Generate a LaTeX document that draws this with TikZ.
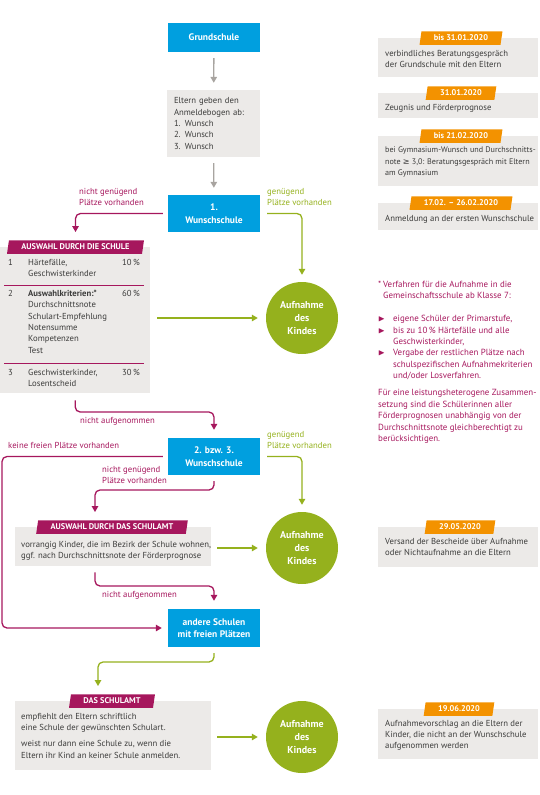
\documentclass[tikz,border=0pt]{standalone}
\usepackage{amssymb}
\usepackage{fontspec}
\setmainfont{PT Sans}
\newfontfamily\symbfont{DejaVu Sans}
\usetikzlibrary{arrows.meta,shapes.geometric,calc}

\definecolor{schulblau}{HTML}{009FDF}
\definecolor{beere}{HTML}{A6175D}
\definecolor{gruen}{HTML}{95B11D}
\definecolor{termin}{HTML}{F39200}
\definecolor{hellgrau}{HTML}{ECEAE8}
\definecolor{pfeilgrau}{HTML}{A8A4A0}
\definecolor{dunkel}{HTML}{3C3C3B}

\tikzset{
  bluebox/.style={fill=schulblau, text=white, font=\bfseries\fontsize{9.5}{12.5}\selectfont, minimum width=92pt, inner sep=0pt, align=center},
  graybox/.style={fill=hellgrau, inner sep=0pt, anchor=north west},
  txt/.style={font=\fontsize{8.7}{11.3}\selectfont, text=dunkel, align=left, inner sep=0pt, anchor=north west},
  label/.style={font=\fontsize{8.7}{11.3}\selectfont, align=left, inner sep=0pt, anchor=north west},
  kreis/.style={circle, fill=gruen, text=white, minimum size=72pt, inner sep=0pt, align=center, font=\bfseries\fontsize{10}{12.8}\selectfont},
  banner/.style={trapezium, trapezium left angle=72, trapezium right angle=108, trapezium stretches body, minimum height=13.5pt, inner xsep=12.5pt, inner ysep=0pt, text=white, font=\bfseries\fontsize{8.3}{9}\selectfont},
  graupfeil/.style={->, draw=pfeilgrau, line width=1.3pt, shorten <=6pt, shorten >=7pt},
  beerepfeil/.style={->, draw=beere, line width=1.3pt, rounded corners=5pt, shorten <=6pt, shorten >=8pt},
  gruenpfeil/.style={->, draw=gruen, line width=1.3pt, rounded corners=5pt, shorten <=7pt, shorten >=7pt},
}

\begin{document}
\begin{tikzpicture}[x=1pt, y=-1pt, >={Triangle[length=6pt,width=6.5pt]}]
	\useasboundingbox (0,0) rectangle (540,795);

	% Mittelspalte
	\node (grund) [bluebox, minimum height=29pt] at (214,37.5) {Grundschule};
	\node (eltern) [fill=hellgrau, minimum width=93pt, minimum height=67pt, text width=79pt, inner xsep=7pt, inner ysep=0pt, align=left, text=dunkel, font=\fontsize{8.7}{11.3}\selectfont] at (213.5,123.5) {Eltern geben den\\Anmeldebogen ab:\\1. Wunsch\\2. Wunsch\\3. Wunsch};
	\node (w1) [bluebox, minimum height=37pt] at (214,213.5) {1.\\Wunschschule};
	\node (w2) [bluebox, minimum height=37pt] at (214,456.5) {2. bzw. 3.\\Wunschschule};
	\node (andere) [bluebox, minimum height=38pt] at (214,628) {andere Schulen\\mit freien Plätzen};

	\node (auf1) [kreis] at (302,318) {Aufnahme\\des\\Kindes};
	\node (auf2) [kreis] at (302,548) {Aufnahme\\des\\Kindes};
	\node (auf3) [kreis] at (302,737) {Aufnahme\\des\\Kindes};

	% Auswahl durch die Schule
	\node (as1) [graybox, minimum width=150pt, minimum height=146pt] at (0,247) {};
	\node (ban1) [banner, fill=beere] at (75.5,247) {AUSWAHL DURCH DIE SCHULE};
	\node (r1n) [txt] at (8,259) {1};
	\node (r1t) [txt] at (28,259) {Härtefälle,\\Geschwisterkinder};
	\node (r1p) [txt, anchor=north east] at (140,259) {10\,\%};
	\draw [beere, line width=0.8pt] (4,285) -- (144,285);
	\node (r2n) [txt] at (8,290) {2};
	\node (r2t) [txt] at (28,290) {\textbf{Auswahlkriterien:*}\\Durchschnittsnote\\Schulart-Empfehlung\\Notensumme\\Kompetenzen\\Test};
	\node (r2p) [txt, anchor=north east] at (140,290) {60\,\%};
	\draw [beere, line width=0.8pt] (4,363) -- (144,363);
	\node (r3n) [txt] at (8,369) {3};
	\node (r3t) [txt] at (28,369) {Geschwisterkinder,\\Losentscheid};
	\node (r3p) [txt, anchor=north east] at (140,369) {30\,\%};

	% Auswahl durch das Schulamt
	\node (as2) [graybox, minimum width=196pt, minimum height=39pt] at (15,527) {};
	\node (ban2) [banner, fill=beere] at (112,527) {AUSWAHL DURCH DAS SCHULAMT};
	\node (as2t) [txt] at (21,541) {vorrangig Kinder, die im Bezirk der Schule wohnen,\\ggf. nach Durchschnittsnote der Förderprognose};

	% Das Schulamt
	\node (as3) [graybox, minimum width=196pt, minimum height=69pt] at (15,701) {};
	\node (ban3) [banner, fill=beere] at (112,701) {DAS SCHULAMT};
	\node (as3t) [txt] at (21,713) {empfiehlt den Eltern schriftlich\\eine Schule der gewünschten Schulart.\\[5pt]weist nur dann eine Schule zu, wenn die\\Eltern ihr Kind an keiner Schule anmelden.};

	% Termine rechts
	\node (b1) [graybox, minimum width=160pt, minimum height=39pt] at (378,38) {};
	\node (t1) [banner, fill=termin] at (461,38) {bis 31.01.2020};
	\node (b1t) [txt] at (385,50) {verbindliches Beratungsgespräch\\der Grundschule mit den Eltern};
	\node (b2) [graybox, minimum width=160pt, minimum height=25pt] at (378,93) {};
	\node (t2) [banner, fill=termin] at (461,93) {31.01.2020};
	\node (b2t) [txt] at (385,104) {Zeugnis und Förderprognose};
	\node (b3) [graybox, minimum width=160pt, minimum height=50pt] at (378,136) {};
	\node (t3) [banner, fill=termin] at (461,136) {bis 21.02.2020};
	\node (b3t) [txt, font=\fontsize{8.1}{11.5}\selectfont] at (385,147) {bei Gymnasium-Wunsch und Durchschnitts-\\note {\symbfont ≥} 3,0: Beratungsgespräch mit Eltern\\am Gymnasium};
	\node (b4) [graybox, minimum width=160pt, minimum height=27pt] at (378,203) {};
	\node (t4) [banner, fill=termin] at (461,203) {17.02. -- 26.02.2020};
	\node (b4t) [txt] at (385,215) {Anmeldung an der ersten Wunschschule};
	\node (b5) [graybox, minimum width=160pt, minimum height=40pt] at (378,527) {};
	\node (t5) [banner, fill=termin] at (460,527) {29.05.2020};
	\node (b5t) [txt] at (385,538) {Versand der Bescheide über Aufnahme\\oder Nichtaufnahme an die Eltern};
	\node (b6) [graybox, minimum width=160pt, minimum height=50pt] at (378,709) {};
	\node (t6) [banner, fill=termin] at (459,709) {19.06.2020};
	\node (b6t) [txt] at (385,720) {Aufnahmevorschlag an die Eltern der\\Kinder, die nicht an der Wunschschule\\aufgenommen werden};

	% Fussnote
	\node (fn) [label, text=beere, font=\fontsize{8.9}{11.4}\selectfont] at (378,281) {\makebox[5pt][l]{*}Verfahren für die Aufnahme in die\\\hspace*{5pt}Gemeinschaftsschule ab Klasse 7:\\[11.4pt]
		\makebox[15pt][l]{$\blacktriangleright$}eigene Schüler der Primarstufe,\\
		\makebox[15pt][l]{$\blacktriangleright$}bis zu 10\,\% Härtefälle und alle\\\hspace*{15pt}Geschwisterkinder,\\
		\makebox[15pt][l]{$\blacktriangleright$}Vergabe der restlichen Plätze nach\\\hspace*{15pt}schulspezifischen Aufnahmekriterien\\\hspace*{15pt}und/oder Losverfahren.\\[5.7pt]
		Für eine leistungsheterogene Zusammen-\\setzung sind die Schülerinnen aller\\Förderprognosen unabhängig von der\\Durchschnittsnote gleichberechtigt zu\\berücksichtigen.};

	% Beschriftungen
	\node (lab1) [label, text=beere] at (79,188) {nicht genügend\\Plätze vorhanden};
	\node (lab2) [label, text=gruen] at (267,188) {genügend\\Plätze vorhanden};
	\node (lab3) [label, text=beere] at (80,417) {nicht aufgenommen};
	\node (lab4) [label, text=beere] at (8,442) {keine freien Plätze vorhanden};
	\node (lab5) [label, text=gruen] at (267,431) {genügend\\Plätze vorhanden};
	\node (lab6) [label, text=beere] at (102,466) {nicht genügend\\Plätze vorhanden};
	\node (lab7) [label, text=beere] at (102,591) {nicht aufgenommen};

	\coordinate (k1) at (214,412);
	\coordinate (k2) at (2,600);
	\coordinate (k3) at (95,490);
	\coordinate (k4) at (214,586);
	\coordinate (k5) at (98,662);

	% Pfeile
	\draw [graupfeil] (grund) to (eltern);
	\draw [graupfeil] (eltern) to (w1);
	\draw [beerepfeil, shorten <=5pt] (w1.west) -| (ban1.north);
	\draw [gruenpfeil] (w1.east) -| (auf1.north);
	\draw [gruenpfeil, shorten >=8pt] (auf1.west -| as1.east) -- (auf1.west);
	\draw [beerepfeil, shorten <=7pt] (as1.south) |- (k1) -- (w2.north);
	\draw [beerepfeil, shorten <=5pt, shorten >=6pt] (w2.west) -| (k2) |- (andere.west);
	\draw [gruenpfeil] (w2.east) -| (auf2.north);
	\draw [beerepfeil] (w2.south) |- (k3) -- (k3 |- ban2.north);
	\draw [gruenpfeil, shorten <=6pt, shorten >=8pt] (auf2.west -| as2.east) -- (auf2.west);
	\draw [beerepfeil] (k3 |- as2.south) |- (k4) -- (andere.north);
	\draw [gruenpfeil, shorten <=6pt, shorten >=8pt] (andere.south) |- (k5) -- (k5 |- ban3.north);
	\draw [gruenpfeil, shorten <=6pt, shorten >=8pt] (auf3.west -| as3.east) -- (auf3.west);
\end{tikzpicture}
\end{document}
